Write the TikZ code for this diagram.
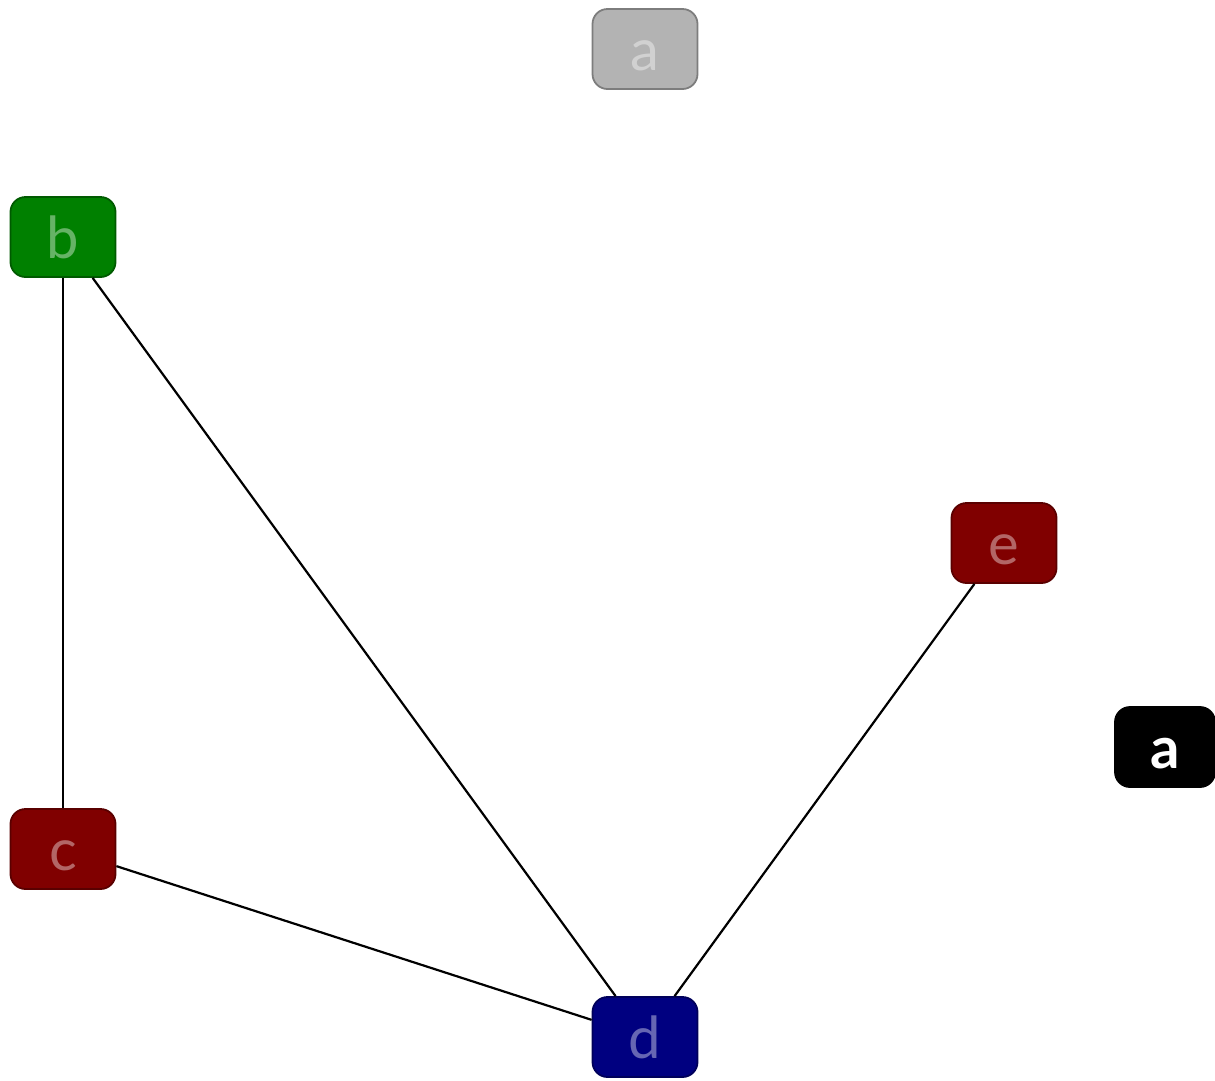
\documentclass[tikz,border=0pt]{standalone}
\usepackage{fontspec}
\setmainfont{Lato}
\begin{document}
\begin{tikzpicture}[x=1pt,y=-1pt,
  gnode/.style={rounded corners=15pt, minimum width=105pt, minimum height=80pt, line width=1.8pt, inner sep=0pt,
    text height=42pt, text depth=0pt, font=\fontsize{58}{58}\selectfont},
  colnode/.style={gnode, draw=#1!70!black, fill=#1, text=#1!60!white},
  edge/.style={line width=2.2pt}]
\definecolor{cgray}{RGB}{179,179,179}
\definecolor{cgreen}{RGB}{0,128,0}
\definecolor{cred}{RGB}{128,0,0}
\definecolor{cblue}{RGB}{0,0,128}
\useasboundingbox (0,0) rectangle (1215,1080);
\node[colnode=cgray] (a1) at (645,49) {a};
\node[colnode=cgreen] (b) at (63,237) {b};
\node[colnode=cred] (e) at (1004,543) {e};
\node[gnode, fill=black, draw=black, text=white, font=\fontsize{58}{58}\selectfont\bfseries, minimum width=100pt] (a2) at (1165,747) {a};
\node[colnode=cred] (c) at (63,849) {c};
\node[colnode=cblue] (d) at (645,1037) {d};
\draw[edge] (b) -- (c);
\draw[edge] (b) -- (d);
\draw[edge] (c) -- (d);
\draw[edge] (e) -- (d);
\end{tikzpicture}
\end{document}
